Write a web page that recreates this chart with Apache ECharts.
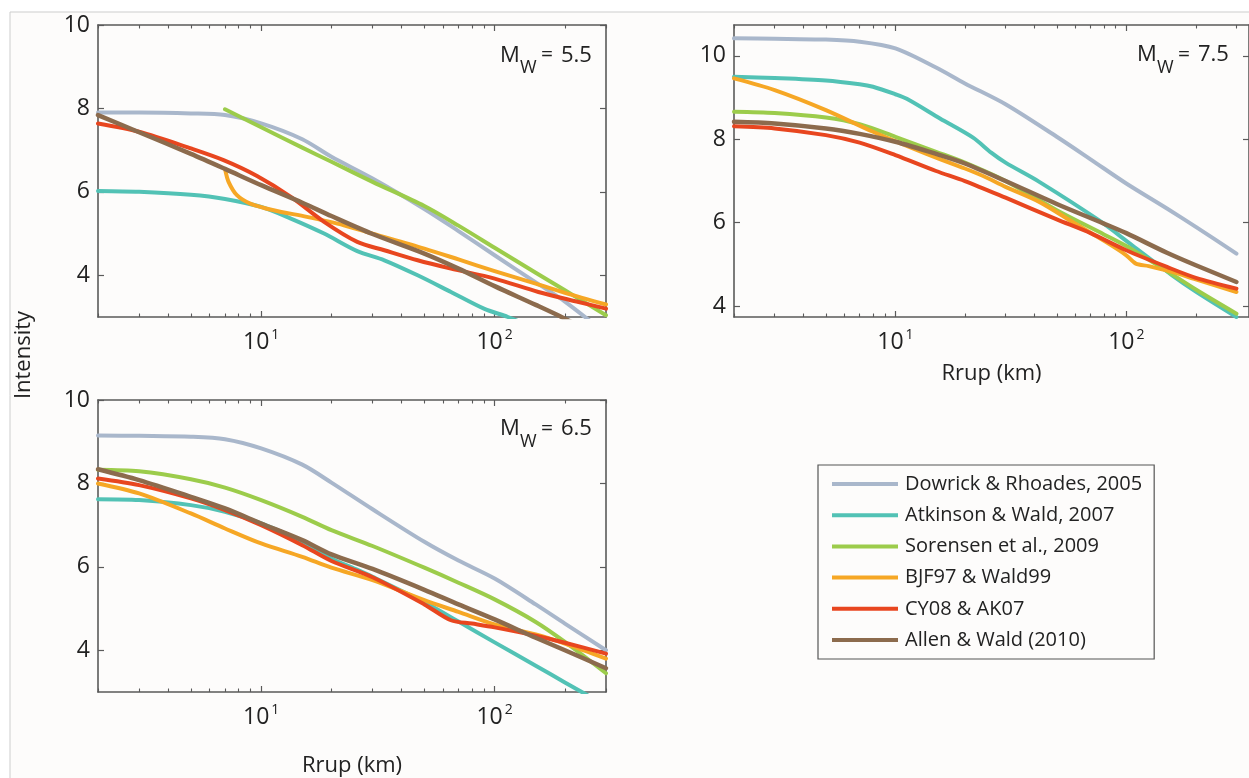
<!DOCTYPE html>
<html>
<head>
<meta charset="utf-8">
<script src="https://cdn.jsdelivr.net/npm/echarts@6/dist/echarts.min.js"></script>
<style>
  html, body { margin: 0; padding: 0; background: #ffffff; }
  #chart { width: 1249px; height: 778px; }
</style>
</head>
<body>
<div id="chart"></div>
<script>
// Intensity prediction equations vs. rupture distance, three magnitudes.
// Each curve is a list of [Rrup (km), intensity] pairs.

const modelNames = [
  'Dowrick & Rhoades, 2005',
  'Atkinson & Wald, 2007',
  'Sorensen et al., 2009',
  'BJF97 & Wald99',
  'CY08 & AK07',
  'Allen & Wald (2010)'
];
const modelColors = ['#a9b7cb', '#52c2b5', '#9ccc4b', '#f6a725', '#e8461f', '#8c6b4d'];

// Mw 5.5
const dowrick55 = [[2,7.90],[3,7.90],[5,7.88],[7,7.84],[10,7.64],[15,7.26],[20,6.84],[30,6.32],[50,5.59],[70,5.06],[100,4.48],[150,3.83],[200,3.37],[300,2.60]];
const atkinson55 = [[2,6.02],[3,6.00],[5,5.93],[7,5.83],[10,5.64],[13.4,5.36],[18.6,5.00],[25.8,4.58],[33.7,4.36],[46.8,4.00],[65,3.60],[90,3.20],[114,3.00],[150,2.72],[300,1.95]];
const sorensen55 = [[7,7.98],[10,7.55],[15,7.06],[20,6.72],[30,6.24],[50,5.66],[70,5.19],[100,4.66],[150,4.06],[200,3.64],[300,3.04]];
const bjf55 = [[7.02,6.52],[7.25,6.24],[7.87,5.92],[8.98,5.72],[11.3,5.56],[15.7,5.40],[22.6,5.20],[30,5.00],[50,4.64],[70,4.38],[100,4.10],[150,3.80],[200,3.58],[300,3.30]];
const cy55 = [[2,7.64],[3,7.44],[5,7.04],[6.9,6.76],[9.6,6.38],[13.4,5.88],[18.6,5.28],[25.8,4.80],[33.7,4.60],[46.8,4.36],[65,4.16],[100,3.92],[154,3.60],[229,3.36],[300,3.20]];
const allen55 = [[2,7.84],[3,7.43],[5,6.91],[7,6.55],[10,6.16],[15,5.74],[20,5.42],[30,4.99],[50,4.52],[70,4.16],[100,3.74],[150,3.29],[200,2.96],[300,2.45]];

// Mw 7.5
const dowrick75 = [[2,10.42],[3,10.41],[5,10.39],[7,10.34],[10,10.18],[15,9.72],[20,9.34],[30,8.84],[50,8.06],[70,7.52],[100,6.94],[150,6.34],[200,5.90],[300,5.26]];
const atkinson75 = [[2,9.50],[3,9.47],[5,9.41],[7,9.32],[8,9.26],[10,9.08],[11.2,8.97],[15.6,8.50],[21.7,8.04],[26,7.68],[30,7.44],[42,6.98],[76,6.06],[106,5.46],[158,4.74],[200,4.35],[300,3.74]];
const sorensen75 = [[2,8.66],[3,8.63],[5,8.52],[7,8.36],[10,8.06],[15,7.70],[20,7.44],[30,7.00],[50,6.30],[80,5.72],[100,5.44],[150,4.84],[200,4.40],[300,3.82]];
const bjf75 = [[2,9.46],[3,9.18],[5,8.70],[8,8.18],[11,7.86],[15,7.56],[20,7.30],[24,7.12],[30,6.86],[42,6.50],[60,5.98],[81.5,5.54],[100,5.22],[110,5.02],[125,4.96],[158,4.82],[200,4.64],[300,4.34]];
const cy75 = [[2,8.31],[3,8.26],[5,8.10],[7,7.92],[10,7.62],[15,7.24],[20,7.00],[30,6.60],[50,6.08],[70,5.75],[100,5.34],[150,4.94],[200,4.68],[300,4.42]];
const allen75 = [[2,8.42],[3,8.38],[5,8.26],[7,8.13],[10,7.94],[15,7.65],[20,7.42],[30,7.00],[50,6.45],[80,5.98],[100,5.75],[150,5.28],[200,4.98],[300,4.58]];

// Mw 6.5
const dowrick65 = [[2,9.15],[3,9.14],[5,9.12],[7,9.06],[10,8.84],[15,8.45],[20,8.02],[30,7.38],[50,6.60],[70,6.15],[100,5.72],[150,5.10],[200,4.64],[300,4.00]];
const atkinson65 = [[2,7.62],[3,7.60],[5,7.48],[7,7.32],[10,7.04],[15,6.60],[20,6.20],[26,5.92],[30,5.76],[50,5.15],[70,4.69],[100,4.19],[150,3.63],[200,3.23],[300,2.67]];
const sorensen65 = [[2,8.33],[3,8.29],[5,8.10],[7,7.90],[10,7.60],[15,7.20],[20,6.88],[30,6.50],[50,5.98],[70,5.62],[100,5.22],[150,4.68],[200,4.20],[300,3.45]];
const bjf65 = [[2,8.00],[3,7.76],[5,7.28],[7,6.92],[10,6.56],[15,6.24],[20,5.98],[30,5.68],[50,5.20],[70,4.92],[100,4.62],[150,4.38],[200,4.16],[300,3.80]];
const cy65 = [[2,8.12],[3,7.96],[5,7.64],[7,7.36],[10,7.00],[15,6.52],[20,6.14],[30,5.75],[50,5.10],[65,4.72],[80,4.64],[100,4.55],[150,4.35],[200,4.18],[300,3.92]];
const allen65 = [[2,8.34],[3,8.08],[5,7.68],[7,7.40],[10,7.04],[15,6.64],[20,6.30],[30,5.95],[50,5.45],[70,5.10],[100,4.74],[150,4.30],[200,4.00],[300,3.57]];

// Axis ticks
const yTickValues = [4, 6, 8, 10];
const xMajorTicks = [10, 100];
const xMinorTicks = [2, 3, 4, 5, 6, 7, 8, 9, 20, 30, 40, 50, 60, 70, 80, 90, 200, 300];
const magnitudeLabels = ['5.5', '7.5', '6.5'];
const xAxisTitle = 'Rrup (km)';
const yAxisTitle = 'Intensity';

const FONT = "'Open Sans', sans-serif";
const AXIS_COLOR = '#5a5a5a';
const TEXT_COLOR = '#222222';

const panels = [
  { grid: { left: 98,  top: 25,  width: 508, height: 292 }, xMax: 300, yMin: 3,    yMax: 10,
    curves: [dowrick55, atkinson55, sorensen55, bjf55, cy55, allen55], title: null, nameGap: 0,
    mw: { x: 500, y: 55.5 }, mag: magnitudeLabels[0] },
  { grid: { left: 734, top: 25,  width: 518, height: 292 }, xMax: 340, yMin: 3.74, yMax: 10.74,
    curves: [dowrick75, atkinson75, sorensen75, bjf75, cy75, allen75], title: xAxisTitle, nameGap: 46,
    mw: { x: 1137, y: 55 }, mag: magnitudeLabels[1] },
  { grid: { left: 98,  top: 400, width: 508, height: 292 }, xMax: 300, yMin: 3,    yMax: 10,
    curves: [dowrick65, atkinson65, sorensen65, bjf65, cy65, allen65], title: xAxisTitle, nameGap: 63,
    mw: { x: 500, y: 429 }, mag: magnitudeLabels[2] }
];

const grids = [], xAxes = [], yAxes = [], series = [], graphics = [];

// page frame
graphics.push({
  type: 'rect', z: -10, silent: true,
  shape: { x: 10, y: 12, width: 1250, height: 780 },
  style: { fill: '#fdfcfb', stroke: '#cdcdcd', lineWidth: 1 }
});
graphics.push({
  type: 'text', x: 24, y: 355, rotation: Math.PI / 2, silent: true,
  style: { text: yAxisTitle, font: `22px ${FONT}`, fill: TEXT_COLOR, align: 'center', verticalAlign: 'middle' }
});

const logLabel = (v) => '{b|10}{s|' + Math.round(Math.log10(v)) + '}';

panels.forEach((p, g) => {
  grids.push(Object.assign({ containLabel: false }, p.grid));

  const base = {
    type: 'log', logBase: 10, gridIndex: g, min: 2, max: p.xMax,
    splitLine: { show: false },
    axisLine: { show: false, onZero: false },
    axisLabel: { show: false },
    axisTick: { show: false }
  };
  const majorTick = { show: true, inside: true, length: 6, customValues: xMajorTicks, lineStyle: { color: AXIS_COLOR, width: 1.2 } };
  const minorTick = { show: true, inside: true, length: 3.5, customValues: xMinorTicks, lineStyle: { color: AXIS_COLOR, width: 1.1 } };
  const frameLine = { show: true, onZero: false, lineStyle: { color: AXIS_COLOR, width: 1.6 } };

  // bottom axis: frame line, major ticks, labels, title
  xAxes.push(Object.assign({}, base, {
    position: 'bottom',
    axisLine: frameLine,
    axisTick: majorTick,
    axisLabel: {
      show: true, customValues: xMajorTicks, margin: 11, formatter: logLabel,
      rich: {
        b: { fontFamily: FONT, fontSize: 23, color: TEXT_COLOR, lineHeight: 26, verticalAlign: 'bottom' },
        s: { fontFamily: FONT, fontSize: 14, color: TEXT_COLOR, lineHeight: 14, verticalAlign: 'top', padding: [0, 0, 0, 2] }
      }
    },
    name: p.title || '', nameLocation: 'middle', nameGap: p.nameGap,
    nameTextStyle: { fontFamily: FONT, fontSize: 22, color: TEXT_COLOR, verticalAlign: 'top' }
  }));
  xAxes.push(Object.assign({}, base, { position: 'bottom', axisTick: minorTick }));
  // top axis mirrors ticks
  xAxes.push(Object.assign({}, base, { position: 'top', axisLine: frameLine, axisTick: majorTick }));
  xAxes.push(Object.assign({}, base, { position: 'top', axisTick: minorTick }));

  const yBase = {
    type: 'value', gridIndex: g, min: p.yMin, max: p.yMax,
    splitLine: { show: false },
    axisLine: frameLine,
    axisTick: { show: true, inside: true, length: 6, customValues: yTickValues, lineStyle: { color: AXIS_COLOR, width: 1.2 } }
  };
  yAxes.push(Object.assign({}, yBase, {
    position: 'left',
    axisLabel: { show: true, customValues: yTickValues, margin: 8, fontFamily: FONT, fontSize: 23, color: TEXT_COLOR }
  }));
  yAxes.push(Object.assign({}, yBase, { position: 'right', axisLabel: { show: false } }));

  p.curves.forEach((data, i) => {
    series.push({
      type: 'line', name: modelNames[i],
      xAxisIndex: 4 * g, yAxisIndex: 2 * g,
      data: data,
      showSymbol: false, symbol: 'none',
      smooth: 0.3,
      clip: true, silent: true,
      lineStyle: { color: modelColors[i], width: i === 5 ? 4.5 : 4, cap: 'round', join: 'round' },
      itemStyle: { color: modelColors[i] }
    });
  });

  // magnitude annotation: M with subscript W
  const mw = p.mw;
  graphics.push({ type: 'text', x: mw.x, y: mw.y, silent: true,
    style: { text: 'M', font: `22px ${FONT}`, fill: TEXT_COLOR, verticalAlign: 'middle' } });
  graphics.push({ type: 'text', x: mw.x + 20, y: mw.y + 12.5, silent: true,
    style: { text: 'W', font: `18px ${FONT}`, fill: TEXT_COLOR, verticalAlign: 'middle' } });
  graphics.push({ type: 'text', x: mw.x + 41, y: mw.y, silent: true,
    style: { text: '=', font: `21px ${FONT}`, fill: TEXT_COLOR, verticalAlign: 'middle' } });
  graphics.push({ type: 'text', x: mw.x + 61, y: mw.y, silent: true,
    style: { text: p.mag, font: `22px ${FONT}`, fill: TEXT_COLOR, verticalAlign: 'middle' } });
});

const chart = echarts.init(document.getElementById('chart'), null, { renderer: 'canvas' });
chart.setOption({
  backgroundColor: '#ffffff',
  animation: false,
  grid: grids,
  xAxis: xAxes,
  yAxis: yAxes,
  series: series,
  graphic: graphics,
  legend: {
    data: modelNames,
    orient: 'vertical',
    left: 818, top: 465,
    icon: 'rect', itemWidth: 66, itemHeight: 4, itemGap: 9.2,
    padding: [8, 12, 8, 14],
    borderColor: '#555555', borderWidth: 1.2,
    backgroundColor: '#fdfcfb',
    selectedMode: false,
    textStyle: { fontFamily: FONT, fontSize: 20, color: TEXT_COLOR, lineHeight: 22, padding: [0, 0, 0, 2] }
  }
});
</script>
</body>
</html>
